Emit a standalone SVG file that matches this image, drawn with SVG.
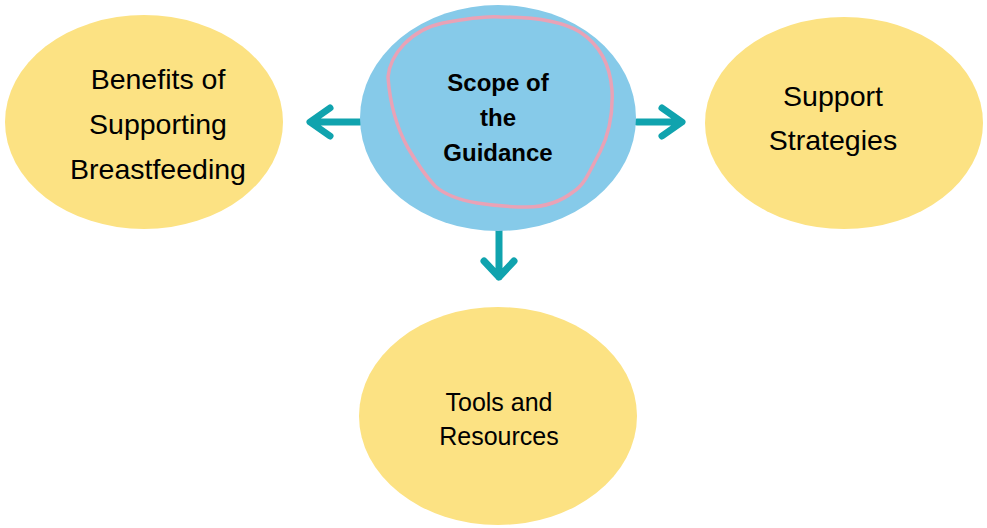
<svg xmlns="http://www.w3.org/2000/svg" width="987" height="528" viewBox="0 0 987 528">
<defs>
<style>
.y{fill:#FCE283;}
.t{font-family:"Liberation Sans",Arial,sans-serif;fill:#000;text-anchor:middle;}
.a{fill:none;stroke:#10A3AE;stroke-width:7;stroke-linecap:round;stroke-linejoin:round;}
</style>
</defs>
<rect width="987" height="528" fill="#fff"/>
<g id="connectors">
<path class="a" d="M360 122 H312 M330 108 L310 122 L330 136"/>
<path class="a" d="M637 122 H680 M662 108 L682 122 L662 136"/>
<path class="a" d="M499 230 V277 M484 261 L499 277 L514 261"/>
</g>
<g id="benefits">
<ellipse class="y" cx="144" cy="122" rx="139" ry="107"/>
<text class="t" font-size="28.5" x="158" y="89">Benefits of</text>
<text class="t" font-size="28.5" x="158" y="134">Supporting</text>
<text class="t" font-size="28.5" x="158" y="179">Breastfeeding</text>
</g>
<g id="scope">
<ellipse cx="498" cy="118" rx="138" ry="113" fill="#86CAE9"/>
<path d="M388 77 C390 55 410 30 443 23 C470 18 490 16 500 17 C530 17 560 20 580 32 C600 45 610 65 612 90 C613 110 611 130 600 152 C590 170 585 185 573 192 C560 202 545 207 527 207 C505 207 490 205 477 203 C460 200 445 195 435 186 C422 172 415 160 408 148 C398 130 390 105 388 77 Z" fill="none" stroke="#E9A2B6" stroke-width="3.5"/>
<text class="t" font-size="24" font-weight="bold" x="498" y="91">Scope of</text>
<text class="t" font-size="24" font-weight="bold" x="498" y="126">the</text>
<text class="t" font-size="24" font-weight="bold" x="498" y="161">Guidance</text>
</g>
<g id="support">
<ellipse class="y" cx="844" cy="123" rx="139" ry="106"/>
<text class="t" font-size="28.5" x="833" y="106">Support</text>
<text class="t" font-size="28.5" x="833" y="150">Strategies</text>
</g>
<g id="tools">
<ellipse class="y" cx="498" cy="416" rx="139" ry="109"/>
<text class="t" font-size="25" x="499" y="411">Tools and</text>
<text class="t" font-size="25" x="499" y="445">Resources</text>
</g>
</svg>
